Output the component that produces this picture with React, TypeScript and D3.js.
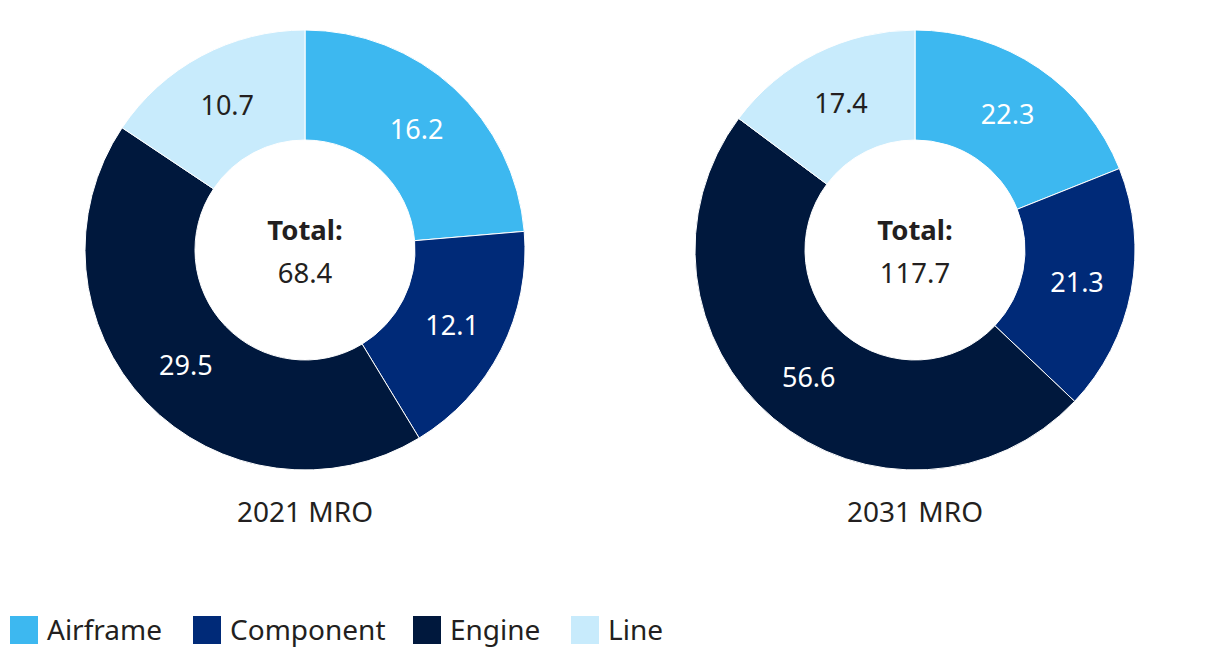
import React from 'react'
import * as d3 from 'd3'

const categories = ['Airframe', 'Component', 'Engine', 'Line']
const colors = ['#3db8f0', '#002a78', '#00183d', '#c8ebfc']
const labelColors = ['#ffffff', '#ffffff', '#ffffff', '#231f20']
const charts = ['2021 MRO', '2031 MRO']
const values2021 = [16.2, 12.1, 29.5, 10.7]
const values2031 = [22.3, 21.3, 56.6, 17.4]
const totals = ['68.4', '117.7']
const seriesValues = [values2021, values2031]

const FONT = '"Noto Sans", "Open Sans", sans-serif'
const TEXT = '#231f20'

function Donut({ values, cx, cy, title, total }: { values: number[]; cx: number; cy: number; title: string; total: string }) {
  const outer = 220
  const inner = 110
  const pie = d3.pie<number>().sort(null).value(d => d)
  const arcs = pie(values)
  const arc = d3.arc<d3.PieArcDatum<number>>().innerRadius(inner).outerRadius(outer)
  const labelArc = d3.arc<d3.PieArcDatum<number>>().innerRadius(165).outerRadius(165)

  return (
    <g transform={`translate(${cx},${cy})`}>
      {arcs.map((a, i) => (
        <path key={i} d={arc(a) || ''} fill={colors[i]} stroke="#ffffff" strokeWidth={1} />
      ))}
      {arcs.map((a, i) => {
        const [x, y] = labelArc.centroid(a)
        return (
          <text key={'l' + i} x={x} y={y + 1} dy="0.35em" textAnchor="middle" fill={labelColors[i]} fontSize={27} fontFamily={FONT}>
            {a.data.toFixed(1)}
          </text>
        )
      })}
      <text x={0} y={-20} dy="0.35em" textAnchor="middle" fontWeight="bold" fill={TEXT} fontSize={27.5} fontFamily={FONT}>Total:</text>
      <text x={0} y={23} dy="0.35em" textAnchor="middle" fill={TEXT} fontSize={27.5} fontFamily={FONT}>{total}</text>
      <text x={0} y={262} dy="0.35em" textAnchor="middle" fill={TEXT} fontSize={28} fontFamily={FONT}>{title}</text>
    </g>
  )
}

export default function App() {
  const width = 1220
  const height = 658
  const legendX = [10, 193, 413, 571]

  return (
    <svg width={width} height={height} style={{ position: 'absolute', left: 0, top: 0, background: '#fff' }}>
      {charts.map((t, i) => (
        <Donut key={t} values={seriesValues[i]} cx={305 + i * 610} cy={250} title={t} total={totals[i]} />
      ))}
      {categories.map((c, i) => (
        <g key={c} transform={`translate(${legendX[i]},616)`}>
          <rect width={28} height={28} fill={colors[i]} />
          <text x={37} y={14} dy="0.35em" fill={TEXT} fontSize={28} fontFamily={FONT}>{c}</text>
        </g>
      ))}
    </svg>
  )
}
